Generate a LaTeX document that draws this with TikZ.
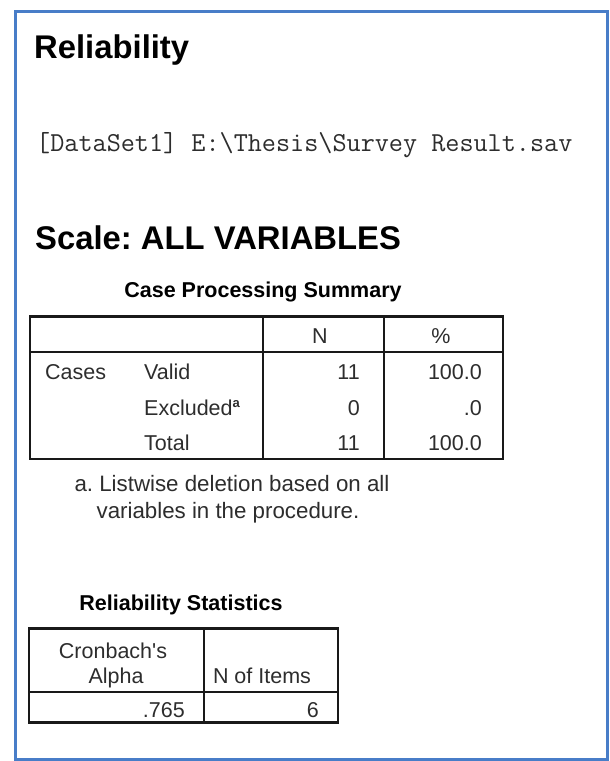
\documentclass[tikz,border=0pt]{standalone}
\usepackage{fontspec}
\setmainfont{Liberation Sans}
\frenchspacing
\definecolor{framebl}{RGB}{72,125,200}
\definecolor{txtgray}{RGB}{45,45,45}
\begin{document}
\begin{tikzpicture}[x=1pt,y=-1pt,
  heading/.style={inner sep=0pt,anchor=base west,font=\fontsize{32.8}{36}\selectfont\bfseries,text=black},
  pathtxt/.style={inner sep=0pt,anchor=base west,font=\fontsize{27.4}{30}\selectfont\ttfamily,text=txtgray},
  tabtitle/.style={inner sep=0pt,anchor=base,font=\fontsize{21.5}{24}\selectfont\bfseries,text=black},
  cell/.style={inner sep=0pt,font=\fontsize{21.5}{24}\selectfont,text=txtgray},
  tabline/.style={line width=2.6pt,black!90},
  innerline/.style={line width=2.2pt,black!90},
  frame/.style={line width=3pt,framebl}]
\useasboundingbox (0,0) rectangle (610,761);
\fill[white] (0,0) rectangle (610,761);
\draw[frame] (15,11.5) rectangle (607,759);

\node[heading] (title) at (34,58) {Reliability};
\node[pathtxt] (path) at (36,151) {[DataSet1] E:\textbackslash Thesis\textbackslash Survey Result.sav};
\node[heading] (scale) at (35,249) {Scale: ALL VARIABLES};

% Case Processing Summary
\node[tabtitle] (cpst) at (263,297) {Case Processing Summary};
\draw[tabline] (30,316.5) rectangle (503,459);
\draw[tabline] (30,352) -- (503,352);
\draw[innerline] (263,316.5) -- (263,459);
\draw[innerline] (384,316.5) -- (384,459);
\node[cell,anchor=base] (hN) at (320,343) {N};
\node[cell,anchor=base] (hP) at (441,343) {\%};
\node[cell,anchor=base west] (cases) at (45,379) {Cases};
\node[cell,anchor=base west] (valid) at (144,379) {Valid};
\node[cell,anchor=base west] (excl) at (144,415) {Excluded\textsuperscript{\fontsize{13}{14}\selectfont\bfseries a}};
\node[cell,anchor=base west] (total) at (144,450) {Total};
\node[cell,anchor=base east] (n1) at (360,379) {11};
\node[cell,anchor=base east] (n2) at (360,415) {0};
\node[cell,anchor=base east] (n3) at (360,450) {11};
\node[cell,anchor=base east] (p1) at (482,379) {100.0};
\node[cell,anchor=base east] (p2) at (482,415) {.0};
\node[cell,anchor=base east] (p3) at (482,450) {100.0};
\node[cell,anchor=base,font=\fontsize{22.3}{24}\selectfont] (fn1) at (232,491) {a. Listwise deletion based on all};
\node[cell,anchor=base,font=\fontsize{22.3}{24}\selectfont] (fn2) at (228,518) {variables in the procedure.};

% Reliability Statistics
\node[tabtitle] (rst) at (181,610) {Reliability Statistics};
\draw[tabline] (29,628.5) rectangle (338,722.5);
\draw[tabline] (29,692) -- (338,692);
\draw[innerline] (204,628.5) -- (204,722.5);
\node[cell,anchor=base] (cr1) at (113,658) {Cronbach\textquotesingle s};
\node[cell,anchor=base] (cr2) at (116,683) {Alpha};
\node[cell,anchor=base] (noi) at (262,683) {N of Items};
\node[cell,anchor=base east] (alpha) at (185,717) {.765};
\node[cell,anchor=base east] (nitems) at (319,717) {6};
\end{tikzpicture}
\end{document}
